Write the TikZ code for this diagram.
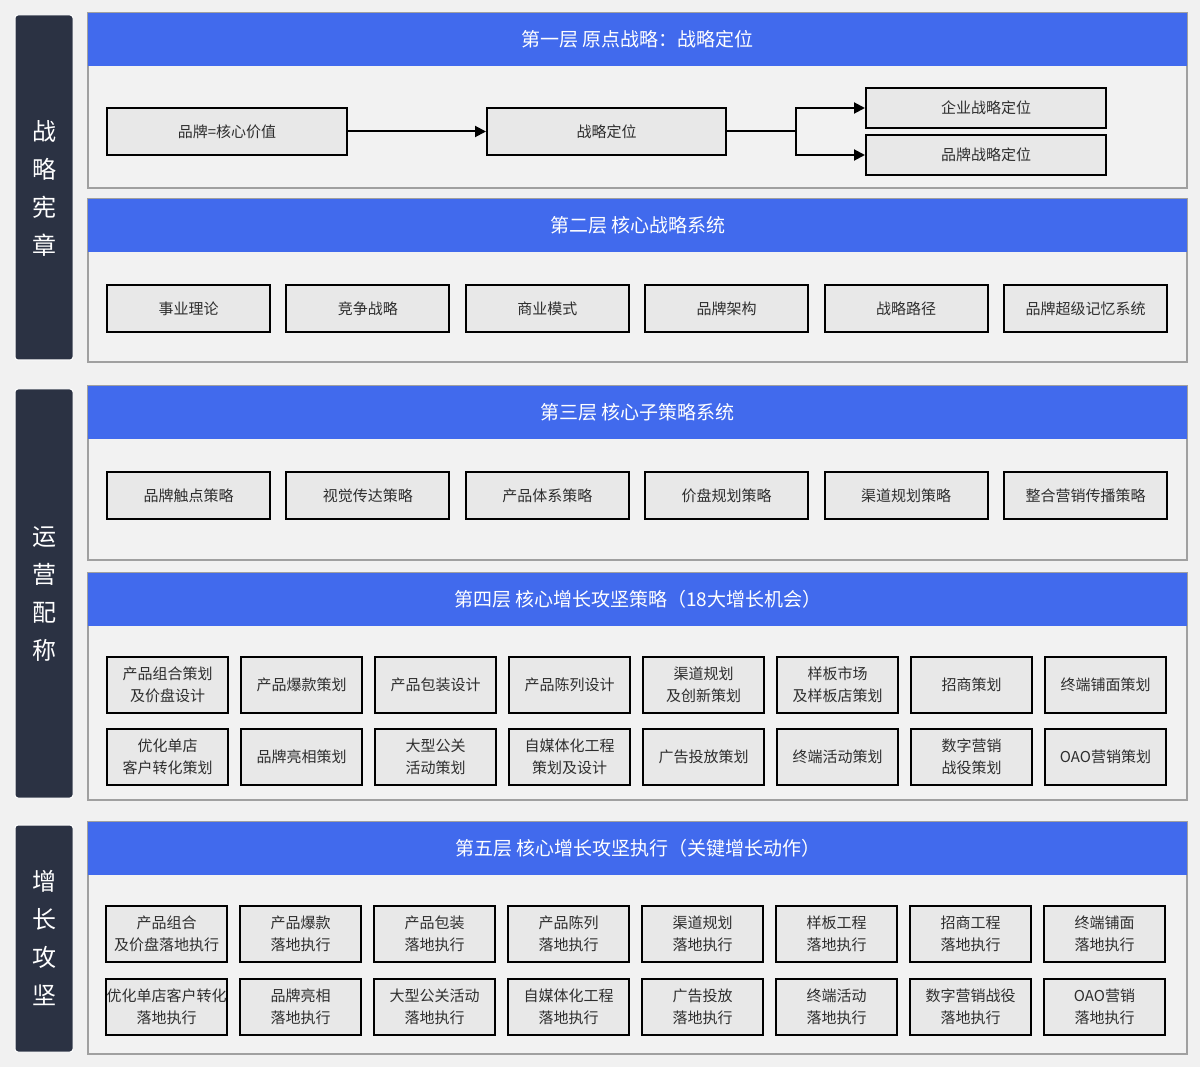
\documentclass[tikz,border=0pt]{standalone}
\usepackage{fontspec}
\newfontfamily\cjk{Noto Sans CJK SC}
\usetikzlibrary{arrows.meta}
\definecolor{bg}{HTML}{F1F1F1}
\definecolor{sidec}{HTML}{2B3243}
\definecolor{hblue}{HTML}{416AED}
\definecolor{pborder}{HTML}{A0A0A0}
\definecolor{pfill}{HTML}{F2F2F2}
\definecolor{boxfill}{HTML}{E8E8E8}
\definecolor{textc}{HTML}{2E2E2E}
\tikzset{
  sidebar/.style={fill=sidec, rounded corners=3pt, draw=white, line width=1pt},
  sidetext/.style={text=white, font=\cjk\fontsize{24}{38}\selectfont, align=center, inner sep=0pt},
  panel/.style={draw=pborder, line width=1.3pt, fill=pfill},
  header/.style={fill=hblue, anchor=north west, minimum width=1099pt, minimum height=53pt, inner sep=0pt, text=white, font=\cjk\fontsize{19}{22}\selectfont},
  bx/.style={draw=black, line width=2pt, fill=boxfill, text=textc, font=\cjk\fontsize{15}{22}\selectfont, align=center, inner sep=0pt},
  bwide/.style={bx, minimum width=240pt, minimum height=47pt},
  bsmall/.style={bx, minimum width=240pt, minimum height=40pt},
  bsix/.style={bx, minimum width=163pt, minimum height=47pt},
  beight/.style={bx, minimum width=121pt, minimum height=56pt},
  conn/.style={line width=2pt, black},
  arr/.style={conn, -{Triangle[length=11pt,width=11pt]}}
}
\begin{document}
\begin{tikzpicture}[x=1pt,y=-1pt]
\useasboundingbox (0,0) rectangle (1200,1067);
\fill[bg] (0,0) rectangle (1200,1067);

% sidebars
\draw[sidebar] (15,15) rectangle (73,360);
\draw[sidebar] (15,389) rectangle (73,798);
\draw[sidebar] (15,825) rectangle (73,1052);
\node[sidetext] (s1) at (44,188) {战\\略\\宪\\章};
\node[sidetext] (s2) at (44,594) {运\\营\\配\\称};
\node[sidetext] (s3) at (44,938) {增\\长\\攻\\坚};

% panels
\draw[panel] (88,13) rectangle (1187,188);
\draw[panel] (88,199) rectangle (1187,362);
\draw[panel] (88,386) rectangle (1187,560);
\draw[panel] (88,573) rectangle (1187,800);
\draw[panel] (88,822) rectangle (1187,1054);

\node[header] (h1) at (88,13) {第一层 原点战略：战略定位};
\node[header] (h2) at (88,199) {第二层 核心战略系统};
\node[header] (h3) at (88,386) {第三层 核心子策略系统};
\node[header] (h4) at (88,573) {第四层 核心增长攻坚策略（18大增长机会）};
\node[header] (h5) at (88,822) {第五层 核心增长攻坚执行（关键增长动作）};

% layer 1
\node[bwide] (a) at (227,131.5) {品牌=核心价值};
\node[bwide, minimum width=239pt] (b) at (606.5,131.5) {战略定位};
\node[bsmall] (c) at (986,108) {企业战略定位};
\node[bsmall] (d) at (986,155) {品牌战略定位};
\coordinate (j) at (796,131.5);
\draw[arr] (a.east) -- (b.west);
\draw[conn] (b.east) -- (j);
\draw[arr] (j) |- (c.west);
\draw[arr] (j) |- (d.west);

% layer 2
\foreach \t [count=\i from 0] in {事业理论,竞争战略,商业模式,品牌架构,战略路径,品牌超级记忆系统}
  \node[bsix] (l2-\i) at (188.5+179.4*\i,308.5) {\t};

% layer 3
\foreach \t [count=\i from 0] in {品牌触点策略,视觉传达策略,产品体系策略,价盘规划策略,渠道规划策略,整合营销传播策略}
  \node[bsix] (l3-\i) at (188.5+179.4*\i,495.5) {\t};

% layer 4
\foreach \t [count=\i from 0] in {{产品组合策划\\及价盘设计},产品爆款策划,产品包装设计,产品陈列设计,{渠道规划\\及创新策划},{样板市场\\及样板店策划},招商策划,终端铺面策划}
  \node[beight] (l4a-\i) at (167.5+134*\i,684.5) {\t};
\foreach \t [count=\i from 0] in {{优化单店\\客户转化策划},品牌亮相策划,{大型公关\\活动策划},{自媒体化工程\\策划及设计},广告投放策划,终端活动策划,{数字营销\\战役策划},OAO营销策划}
  \node[beight] (l4b-\i) at (167.5+134*\i,757) {\t};

% layer 5
\foreach \t [count=\i from 0] in {{产品组合\\及价盘落地执行},{产品爆款\\落地执行},{产品包装\\落地执行},{产品陈列\\落地执行},{渠道规划\\落地执行},{样板工程\\落地执行},{招商工程\\落地执行},{终端铺面\\落地执行}}
  \node[beight] (l5a-\i) at (166.5+134*\i,934) {\t};
\foreach \t [count=\i from 0] in {{优化单店客户转化\\落地执行},{品牌亮相\\落地执行},{大型公关活动\\落地执行},{自媒体化工程\\落地执行},{广告投放\\落地执行},{终端活动\\落地执行},{数字营销战役\\落地执行},{OAO营销\\落地执行}}
  \node[beight] (l5b-\i) at (166.5+134*\i,1007) {\t};
\end{tikzpicture}
\end{document}
